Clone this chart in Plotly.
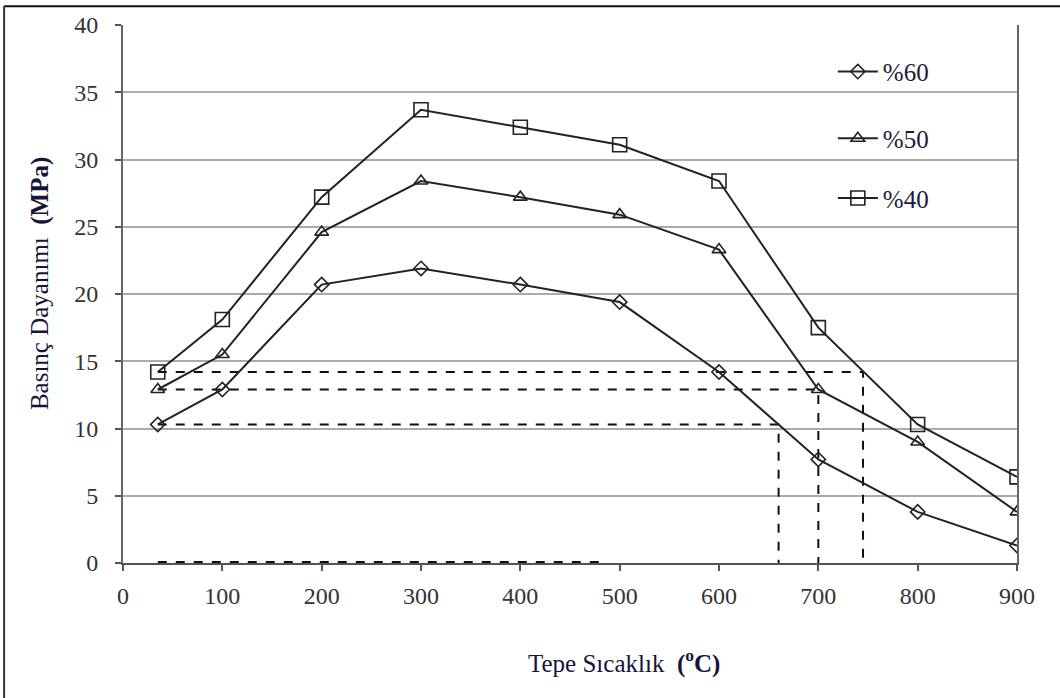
import plotly.graph_objects as go

# Peak temperature (°C) and compressive strength (MPa) per mix
temps = [35, 100, 200, 300, 400, 500, 600, 700, 800, 900]
s60 = [10.3, 12.9, 20.7, 21.9, 20.7, 19.4, 14.2, 7.7, 3.8, 1.3]
s50 = [12.9, 15.5, 24.6, 28.4, 27.2, 25.9, 23.3, 12.9, 9.0, 3.8]
s40 = [14.2, 18.1, 27.2, 33.7, 32.4, 31.1, 28.4, 17.5, 10.3, 6.4]
series_names = ["%60", "%50", "%40"]

# Reference read-off lines: strength level and the temperature where it is reached again
ref_strength = [14.2, 12.9, 10.3]
ref_temp = [745, 700, 660]
baseline_end = 480

x_ticks = list(range(0, 901, 100))
y_ticks = list(range(0, 41, 5))

FONT = "Liberation Serif"
INK = "#222222"

fig = go.Figure()

# Dashed guide lines (drawn first so the curves sit on top)
for s, t in zip(ref_strength, ref_temp):
    fig.add_trace(go.Scatter(
        x=[temps[0], t, t], y=[s, s, 0], mode="lines",
        line=dict(color="#111111", width=2, dash="dash"),
        showlegend=False, hoverinfo="skip"))
fig.add_trace(go.Scatter(
    x=[temps[0], baseline_end], y=[0.08, 0.08], mode="lines",
    line=dict(color="#111111", width=2, dash="dash"),
    showlegend=False, hoverinfo="skip"))

symbols = ["diamond-open", "triangle-up-open", "square-open"]
sizes = [11, 12, 14]
legends = ["legend", "legend2", "legend3"]
for name, ys, sym, sz, lg in zip(series_names, [s60, s50, s40], symbols, sizes, legends):
    fig.add_trace(go.Scatter(
        x=temps, y=ys, mode="lines+markers", name=name,
        line=dict(color=INK, width=2),
        marker=dict(symbol=sym, size=sz, color=INK,
                    line=dict(color=INK, width=1.6)),
        legend=lg))

leg_common = dict(x=0.794, xanchor="left", yanchor="middle",
                  bgcolor="rgba(0,0,0,0)", borderwidth=0,
                  font=dict(family=FONT, size=25, color="#1a1a3a"),
                  itemwidth=40)

fig.update_layout(
    width=1060, height=698,
    margin=dict(l=123, r=43, t=23, b=135),
    paper_bgcolor="white", plot_bgcolor="white",
    font=dict(family=FONT, size=24, color="#333333"),
    legend=dict(y=0.913, **leg_common),
    legend2=dict(y=0.789, **leg_common),
    legend3=dict(y=0.678, **leg_common),
    xaxis=dict(range=[0, 900], tickvals=x_ticks, ticks="outside", ticklen=6,
               tickwidth=2, tickcolor="#555555", showgrid=False, zeroline=False,
               showline=True, linecolor="#555555", linewidth=2,
               ticklabelstandoff=4,
               tickfont=dict(family=FONT, size=24, color="#333333")),
    yaxis=dict(range=[0, 40], tickvals=y_ticks, ticks="outside", ticklen=6,
               tickwidth=2, tickcolor="#555555", showgrid=True,
               gridcolor="#ababab", gridwidth=2, zeroline=False,
               showline=True, linecolor="#666666", linewidth=2, mirror=True,
               ticklabelstandoff=12,
               tickfont=dict(family=FONT, size=24, color="#333333")),
    annotations=[
        dict(text="Tepe Sıcaklık  <b>(<sup>o</sup>C)</b>", xref="paper", yref="paper",
             x=0.56, y=-0.183, showarrow=False, xanchor="center", yanchor="middle",
             font=dict(family=FONT, size=25, color="#15153a")),
        dict(text="Basınç Dayanımı  <b>(MPa)</b>", xref="paper", yref="paper",
             x=-0.093, y=0.52, showarrow=False, textangle=-90,
             xanchor="center", yanchor="middle",
             font=dict(family=FONT, size=25, color="#15153a")),
    ],
    shapes=[
        # outer frame (top and left edges)
        dict(type="line", xref="paper", yref="paper", x0=-0.133, x1=1.06,
             y0=1.035, y1=1.035, line=dict(color="#111111", width=2)),
        dict(type="line", xref="paper", yref="paper", x0=-0.133, x1=-0.133,
             y0=1.035, y1=-0.26, line=dict(color="#333333", width=2)),
    ],
)

fig.write_html("out.html")
